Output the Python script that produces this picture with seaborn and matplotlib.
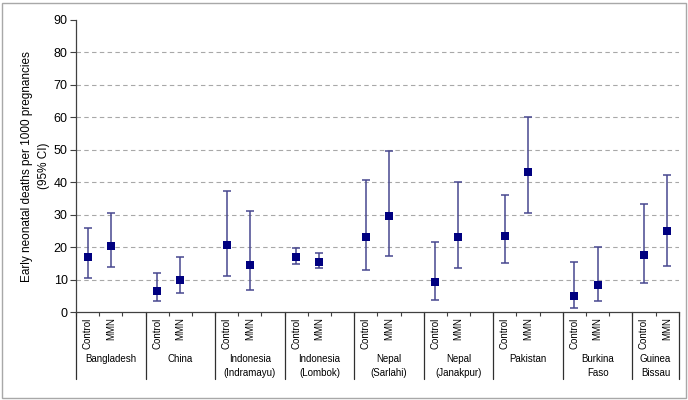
import numpy as np
import pandas as pd
import seaborn as sns
import matplotlib.pyplot as plt
from matplotlib.patches import Rectangle

# Dados
sites = ["Bangladesh", "China", "Indonesia\n(Indramayu)", "Indonesia\n(Lombok)",
         "Nepal\n(Sarlahi)", "Nepal\n(Janakpur)", "Pakistan", "Burkina\nFaso", "Guinea\nBissau"]
arms = ["Control", "MMN"]
ctrl_est = [17.1, 6.5, 20.6, 17.0, 23.3, 9.2, 23.6, 5.1, 17.5]
ctrl_lo = [10.7, 3.5, 11.1, 14.8, 13.1, 3.7, 15.2, 1.4, 9.0]
ctrl_hi = [25.9, 12.2, 37.2, 19.8, 40.6, 21.6, 36.2, 15.4, 33.2]
mmn_est = [20.5, 10.0, 14.7, 15.6, 29.5, 23.3, 43.2, 8.4, 24.9]
mmn_lo = [13.9, 5.9, 6.8, 13.7, 17.4, 13.6, 30.7, 3.5, 14.4]
mmn_hi = [30.5, 17.0, 31.2, 18.2, 49.7, 40.0, 60.2, 20.2, 42.3]

rows = []
for i, s in enumerate(sites):
    rows.append((s, "Control", ctrl_est[i], ctrl_lo[i], ctrl_hi[i], 3 * i + 0.5))
    rows.append((s, "MMN", mmn_est[i], mmn_lo[i], mmn_hi[i], 3 * i + 1.5))
df = pd.DataFrame(rows, columns=["site", "arm", "est", "lo", "hi", "x"])

sns.set_theme(style="white")
plt.rcParams['font.family'] = ['Liberation Sans', 'DejaVu Sans']

fig = plt.figure(figsize=(6.88, 4.0), dpi=100)
ax = fig.add_axes([76 / 688, 1 - 312.3 / 400, (678.7 - 76) / 688, 292.3 / 400])

n_slots = 3 * (len(sites) - 1) + 2
ax.set_xlim(0, n_slots)
ax.set_ylim(0, 90)

# grelha
for v in range(10, 90, 10):
    ax.axhline(v, color="#a8a8a8", lw=0.8, ls=(0, (4, 3)), zorder=0)

# barras de erro
ax.errorbar(df["x"], df["est"], yerr=[df["est"] - df["lo"], df["hi"] - df["est"]],
            fmt="none", ecolor="#48488f", elinewidth=1.1, capsize=3, capthick=1.1, zorder=2)
sns.scatterplot(data=df, x="x", y="est", marker="s", color="#000080", s=30,
                linewidth=0, ax=ax, zorder=3, legend=False)

ax.set_xlabel("")
ax.set_ylabel("Early neonatal deaths per 1000 pregnancies\n(95% CI)", fontsize=8.5,
              color="black", labelpad=3, linespacing=1.45)
ax.set_yticks(range(0, 100, 10))
ax.tick_params(axis="y", which="major", left=True, length=4, width=0.8, labelsize=9,
               color="#404040", labelcolor="black", pad=2)
ax.set_xticks([])
ax.set_xticks(np.arange(0, n_slots + 1), minor=True)
ax.tick_params(axis="x", which="minor", bottom=True, length=3, width=0.8, color="#404040")
for sp in ["top", "right"]:
    ax.spines[sp].set_visible(False)
for sp in ["left", "bottom"]:
    ax.spines[sp].set_color("#404040")
    ax.spines[sp].set_linewidth(0.9)

# rótulos das categorias e separadores
trans = ax.get_xaxis_transform()
sep_bottom = -(379 - 312.3) / 292.3
for x, arm in zip(df["x"], df["arm"]):
    ax.text(x, -5 / 292.3, arm, transform=trans, rotation=90, ha="center", va="top",
            fontsize=7, color="black")
bounds = [3 * i for i in range(len(sites))] + [n_slots]
for b in bounds:
    ax.plot([b, b], [0, sep_bottom], transform=trans, color="#303030", lw=0.9, clip_on=False)
for i, s in enumerate(sites):
    centre = (bounds[i] + bounds[i + 1]) / 2
    ax.text(centre, -(354 - 312.3) / 292.3, s, transform=trans, ha="center", va="top",
            fontsize=7, color="black", linespacing=1.5)

fig.patches.append(Rectangle((2 / 688, 2 / 400), 684 / 688, 395 / 400, transform=fig.transFigure,
                             fill=False, edgecolor="#a8a8a8", lw=1))

fig.savefig("out.png", dpi=100)
